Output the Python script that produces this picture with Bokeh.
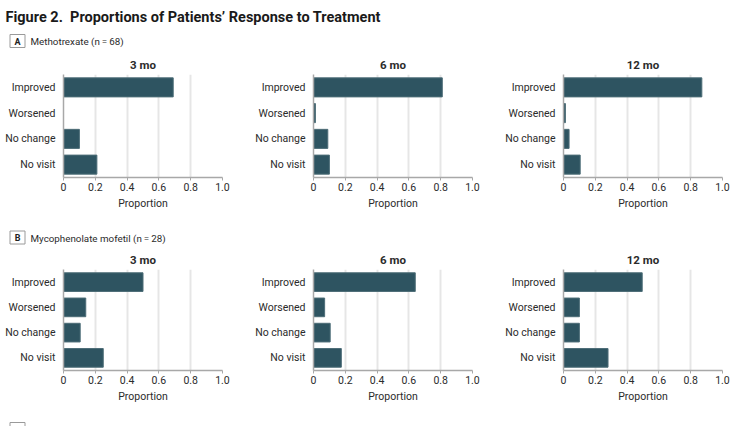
from bokeh.plotting import figure
from bokeh.layouts import row, column
from bokeh.models import FactorRange, Range1d, FixedTicker
from bokeh.core.properties import value
from bokeh.embed import file_html
from bokeh.resources import INLINE

# ---- data ----
categories = ["Improved", "Worsened", "No change", "No visit"]
months = ["3 mo", "6 mo", "12 mo"]
mtx_3 = [0.69, 0.0, 0.10, 0.21]
mtx_6 = [0.81, 0.012, 0.09, 0.10]
mtx_12 = [0.87, 0.012, 0.035, 0.105]
mmf_3 = [0.50, 0.14, 0.105, 0.25]
mmf_6 = [0.64, 0.07, 0.105, 0.175]
mmf_12 = [0.495, 0.10, 0.10, 0.28]
x_ticks = [0, 0.2, 0.4, 0.6, 0.8, 1.0]
x_tick_labels = ["0", "0.2", "0.4", "0.6", "0.8", "1.0"]
fig_title = "Figure 2.\u00a0 Proportions of Patients’ Response to Treatment"
panel_letters = ["A", "B", "C"]
panel_names = ["Methotrexate (n\u2009=\u200968)", "Mycophenolate mofetil (n\u2009=\u200928)"]

FONT = "Roboto"
BAR = "#2e5461"
TXT = "#2b2b2b"
FS = "10.5px"
TOTAL_W = 746


def make_panel(title, values, width, border_top):
    p = figure(width=width, height=border_top + 107 + 40,
               x_range=Range1d(0, 1.0),
               y_range=FactorRange(*reversed(categories), range_padding=0),
               output_backend="svg", toolbar_location=None,
               min_border_left=63, min_border_right=width - 63 - 159,
               min_border_top=border_top, min_border_bottom=40)
    p.outline_line_color = None
    p.background_fill_color = "white"
    p.hbar(y=categories, left=0, right=values, height=0.74,
           fill_color=BAR, line_color="#4d6d77", line_width=1)
    p.title.text = title
    p.title.align = "center"
    p.title.text_font = FONT
    p.title.text_font_size = "11.5px"
    p.title.text_font_style = "bold"
    p.title.text_color = TXT
    p.title.standoff = 6
    xa = p.xaxis[0]
    xa.ticker = FixedTicker(ticks=x_ticks)
    xa.major_label_overrides = {t: l for t, l in zip(x_ticks, x_tick_labels)}
    xa.axis_line_color = "#a8a8a8"
    xa.axis_line_width = 1.5
    xa.major_tick_line_color = "#a8a8a8"
    xa.major_tick_out = 3
    xa.major_tick_in = 0
    xa.minor_tick_line_color = None
    xa.major_label_standoff = 2
    xa.major_label_text_font = FONT
    xa.major_label_text_font_size = FS
    xa.major_label_text_color = TXT
    xa.axis_label = "Proportion"
    xa.axis_label_text_font = FONT
    xa.axis_label_text_font_size = FS
    xa.axis_label_text_font_style = "normal"
    xa.axis_label_text_color = TXT
    xa.axis_label_standoff = 3
    ya = p.yaxis[0]
    ya.axis_line_color = "#a8a8a8"
    ya.axis_line_width = 1.5
    ya.major_tick_line_color = None
    ya.major_tick_out = 0
    ya.minor_tick_line_color = None
    ya.major_label_standoff = 8
    ya.major_label_text_font = FONT
    ya.major_label_text_font_size = FS
    ya.major_label_text_color = TXT
    p.xgrid.ticker = FixedTicker(ticks=x_ticks[1:])
    p.xgrid.grid_line_color = "#e6e6e6"
    p.xgrid.grid_line_width = 2
    p.ygrid.grid_line_color = None
    return p


def header(height):
    # pixel-like coordinate canvas for header texts (y grows downward)
    h = figure(width=TOTAL_W, height=height,
               x_range=Range1d(0, TOTAL_W), y_range=Range1d(height, 0),
               output_backend="svg", toolbar_location=None,
               min_border=0, x_axis_type=None, y_axis_type=None)
    h.outline_line_color = None
    h.grid.visible = False
    return h


def panel_label(h, letter, name, cy):
    h.rect(x=[17], y=[cy], width=15, height=13, fill_color="white",
           line_color="#9a9a9a", line_width=1)
    h.text(x=[17], y=[cy + 0.5], text=[letter], text_font=value(FONT),
           text_font_size="9px", text_font_style="bold", text_color="#222",
           text_align="center", text_baseline="middle")
    if name:
        h.text(x=[30], y=[cy + 0.5], text=[name], text_font=value(FONT),
               text_font_size="9.8px", text_color=TXT,
               text_align="left", text_baseline="middle")


hdrA = header(52)
hdrA.text(x=[5], y=[17], text=[fig_title], text_font=value(FONT),
          text_font_size="14.5px", text_font_style="bold", text_color="#1a1a1a",
          text_align="left", text_baseline="alphabetic")
panel_label(hdrA, panel_letters[0], panel_names[0], 40.5)

hdrB = header(30)
panel_label(hdrB, panel_letters[1], panel_names[1], 20)

hdrC = header(16)
hdrC.rect(x=[17], y=[18.5], width=15, height=13, fill_color="white",
          line_color="#9a9a9a", line_width=1)

rowA = row(make_panel(months[0], mtx_3, 250, 18),
           make_panel(months[1], mtx_6, 250, 18),
           make_panel(months[2], mtx_12, 246, 18))
rowB = row(make_panel(months[0], mmf_3, 250, 16),
           make_panel(months[1], mmf_6, 250, 16),
           make_panel(months[2], mmf_12, 246, 16))

layout = column(hdrA, rowA, hdrB, rowB, hdrC)

open("out.html", "w").write(file_html(layout, INLINE))
